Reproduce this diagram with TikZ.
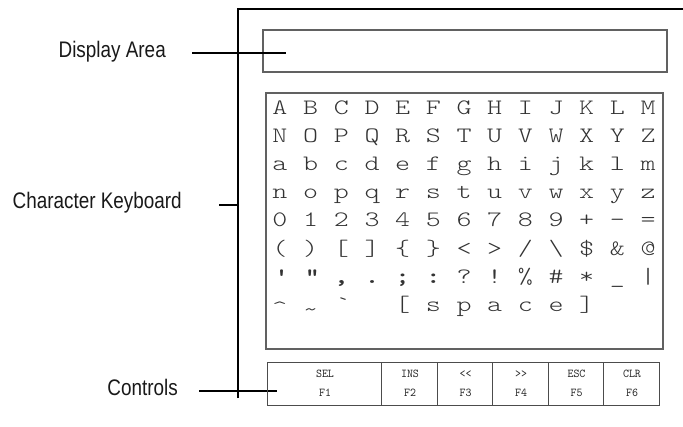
\documentclass[tikz,border=0pt]{standalone}
\usepackage{fontspec}
\newfontfamily\labfont[FakeStretch=0.84]{Liberation Sans}
\newfontfamily\kbfont[FakeStretch=1.3,BoldFont=lmmonolt10-bold.otf]{lmmonolt10-regular.otf}
\newfontfamily\ctlfont[FakeStretch=0.95]{lmmono10-regular.otf}
\newcommand\kbkey[4][]{\node[key,#1] (k#2-#3) at ({280+30.67*(#3-1)},{114+28.2*(#2-1)}) {#4};}
\newcommand\ctlcell[5]{%
  \node[ctlbox, minimum width={#3-#2}, minimum height=43pt, anchor=north west] (cell#1) at (#2,362) {};
  \node[ctl] (cell#1a) at ({(#2+#3)/2+1},377) {#4};
  \node[ctl] (cell#1b) at ({(#2+#3)/2+1},396) {#5};}
\begin{document}
\begin{tikzpicture}[x=1pt,y=-1pt,
  frame/.style={line width=2.2pt,black,line join=miter},
  leader/.style={line width=1.6pt,black},
  panel/.style={draw=black!62,line width=1.3pt,inner sep=0pt,outer sep=0pt},
  ctlbox/.style={draw=black!70,line width=0.9pt,inner sep=0pt,outer sep=0pt},
  lab/.style={font=\labfont\fontsize{22.5}{24}\selectfont,text=black!90,inner sep=0pt,anchor=base east},
  key/.style={font=\kbfont\fontsize{22}{24}\selectfont,text=black!80,inner sep=0pt,anchor=base},
  ctl/.style={font=\ctlfont\fontsize{12}{13}\selectfont,text=black!85,inner sep=0pt,anchor=base},
]
\useasboundingbox (0,0) rectangle (683,426);

% frame
\coordinate (fbot) at (238,398);
\coordinate (ftop) at (238,9);
\coordinate (fright) at (683,9);
\draw[frame] (fbot) -- (ftop) -- (fright);

% panels
\node[panel, minimum width=404pt, minimum height=42pt, anchor=north west] (disp) at (263,30) {};
\node[panel, minimum width=397pt, minimum height=256pt, anchor=north west] (kbd) at (266,93) {};

% labels and leaders
\node[lab] (ldisp) at (166,57) {Display Area};
\node[lab] (lkbd) at (182,208) {Character Keyboard};
\node[lab] (lctl) at (178,395) {Controls};
\coordinate (dispL) at (192,53);
\coordinate (dispR) at (286,53);
\coordinate (kbdL) at (219,205);
\coordinate (kbdR) at (238,205);
\coordinate (ctlL) at (199,391);
\coordinate (ctlR) at (277,391);
\draw[leader] (dispL) -- (dispR);
\draw[leader] (kbdL) -- (kbdR);
\draw[leader] (ctlL) -- (ctlR);

% keyboard rows
\kbkey{1}{1}{A}\kbkey{1}{2}{B}\kbkey{1}{3}{C}\kbkey{1}{4}{D}\kbkey{1}{5}{E}\kbkey{1}{6}{F}\kbkey{1}{7}{G}
\kbkey{1}{8}{H}\kbkey{1}{9}{I}\kbkey{1}{10}{J}\kbkey{1}{11}{K}\kbkey{1}{12}{L}\kbkey{1}{13}{M}
\kbkey{2}{1}{N}\kbkey{2}{2}{O}\kbkey{2}{3}{P}\kbkey{2}{4}{Q}\kbkey{2}{5}{R}\kbkey{2}{6}{S}\kbkey{2}{7}{T}
\kbkey{2}{8}{U}\kbkey{2}{9}{V}\kbkey{2}{10}{W}\kbkey{2}{11}{X}\kbkey{2}{12}{Y}\kbkey{2}{13}{Z}
\kbkey{3}{1}{a}\kbkey{3}{2}{b}\kbkey{3}{3}{c}\kbkey{3}{4}{d}\kbkey{3}{5}{e}\kbkey{3}{6}{f}\kbkey{3}{7}{g}
\kbkey{3}{8}{h}\kbkey{3}{9}{i}\kbkey{3}{10}{j}\kbkey{3}{11}{k}\kbkey{3}{12}{l}\kbkey{3}{13}{m}
\kbkey{4}{1}{n}\kbkey{4}{2}{o}\kbkey{4}{3}{p}\kbkey{4}{4}{q}\kbkey{4}{5}{r}\kbkey{4}{6}{s}\kbkey{4}{7}{t}
\kbkey{4}{8}{u}\kbkey{4}{9}{v}\kbkey{4}{10}{w}\kbkey{4}{11}{x}\kbkey{4}{12}{y}\kbkey{4}{13}{z}
\kbkey{5}{1}{0}\kbkey{5}{2}{1}\kbkey{5}{3}{2}\kbkey{5}{4}{3}\kbkey{5}{5}{4}\kbkey{5}{6}{5}\kbkey{5}{7}{6}
\kbkey{5}{8}{7}\kbkey{5}{9}{8}\kbkey{5}{10}{9}\kbkey{5}{11}{+}\kbkey{5}{12}{-}\kbkey{5}{13}{=}
\kbkey{6}{1}{(}\kbkey{6}{2}{)}\kbkey{6}{3}{[}\kbkey{6}{4}{]}\kbkey{6}{5}{\{}\kbkey{6}{6}{\}}\kbkey{6}{7}{<}
\kbkey{6}{8}{>}\kbkey{6}{9}{/}\kbkey{6}{10}{\textbackslash}\kbkey{6}{11}{\$}\kbkey{6}{12}{\&}\kbkey{6}{13}{@}
\kbkey{7}{1}{\bfseries\textquotesingle}\kbkey{7}{2}{\bfseries\textquotedbl}\kbkey{7}{3}{\bfseries ,}\kbkey{7}{4}{\bfseries .}
\kbkey{7}{5}{\bfseries ;}\kbkey{7}{6}{\bfseries :}\kbkey{7}{7}{?}
\kbkey{7}{8}{!}\kbkey{7}{9}{\%}\kbkey{7}{10}{\#}\kbkey{7}{11}{*}\kbkey{7}{12}{\_}\kbkey{7}{13}{|}
\kbkey[yshift=-4pt]{8}{1}{\textasciicircum}\kbkey[yshift=-5pt]{8}{2}{\textasciitilde}\kbkey{8}{3}{\textasciigrave}
\kbkey{8}{5}{[}\kbkey{8}{6}{s}\kbkey{8}{7}{p}\kbkey{8}{8}{a}\kbkey{8}{9}{c}\kbkey{8}{10}{e}\kbkey{8}{11}{]}

% controls
\ctlcell{1}{267}{381}{SEL}{F1}
\ctlcell{2}{381}{437}{INS}{F2}
\ctlcell{3}{437}{492}{<<}{F3}
\ctlcell{4}{492}{548}{>>}{F4}
\ctlcell{5}{548}{603}{ESC}{F5}
\ctlcell{6}{603}{659}{CLR}{F6}
\end{tikzpicture}
\end{document}
